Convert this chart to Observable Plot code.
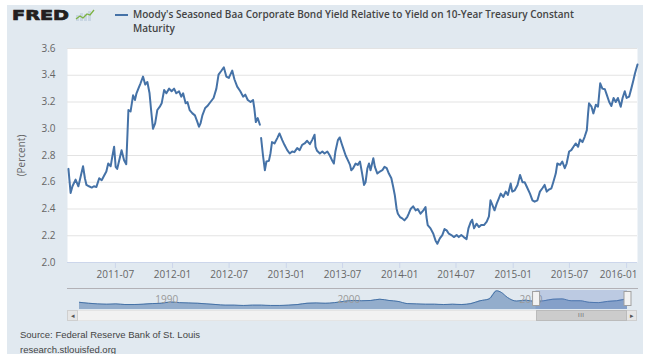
<!DOCTYPE html>
<html><head><meta charset="utf-8">
<script src="https://cdn.jsdelivr.net/npm/d3@7"></script>
<script src="https://cdn.jsdelivr.net/npm/@observablehq/plot@0.6"></script>
<style>
html,body{margin:0;padding:0;background:#fff;}
body{width:655px;height:354px;overflow:hidden;position:relative;font-family:"Open Sans",sans-serif;}
#panel{position:absolute;left:7px;top:5px;width:636px;height:349px;background:#e1e9f0;}
#logo{position:absolute;left:0;top:0;}
#legend{position:absolute;left:115px;top:7px;}
#legend .sw{position:absolute;left:0;top:7px;width:13px;height:2px;background:#4572a7;}
#legend .tx{position:absolute;left:18px;top:0;white-space:nowrap;font-size:10px;line-height:14px;font-weight:600;color:#444;}
#main{position:absolute;left:0;top:40px;}
#nav{position:absolute;left:0;top:288px;}
#navline{position:absolute;left:67px;top:288px;width:571px;height:1px;background:#b2b1b6;}
#track{position:absolute;left:67px;top:310px;width:570px;height:11px;background:#f2f2f2;border-top:1px solid #e4e4e4;border-bottom:1px solid #e4e4e4;box-sizing:border-box;}
.btn{position:absolute;top:310px;width:11px;height:11px;background:#e6e6e6;border:1px solid #cfcfcf;box-sizing:border-box;font-size:7px;line-height:9px;text-align:center;color:#555;}
#thumb{position:absolute;top:310px;height:11px;background:#cccccc;border:1px solid #bbb;box-sizing:border-box;font-size:6px;line-height:9px;text-align:center;color:#555;letter-spacing:0.5px;}
#src{position:absolute;left:20px;top:327px;font-family:"Liberation Sans Narrow","Liberation Sans",sans-serif;font-size:9.5px;color:#444;line-height:15px;}
</style></head>
<body>
<div id="panel"></div>
<svg id="logo" width="110" height="35">
  <text x="12" y="19.5" font-family="DejaVu Sans" font-weight="900" font-size="14" fill="#231f20" stroke="#231f20" stroke-width="0.7" textLength="57" lengthAdjust="spacingAndGlyphs">FRED</text>
  <g transform="translate(76,9)">
    <rect x="0" y="6" width="3" height="6" fill="#c9d6e3"/><rect x="4" y="4" width="3" height="8" fill="#c9d6e3"/>
    <rect x="8" y="5" width="3" height="7" fill="#c9d6e3"/><rect x="12" y="2" width="3" height="10" fill="#c9d6e3"/>
    <polyline points="0,10 4,7 7,9 11,5 14,6 18,1" fill="none" stroke="#7cb342" stroke-width="1.3"/>
  </g>
</svg>
<div id="legend"><div class="sw"></div><div class="tx">Moody's Seasoned Baa Corporate Bond Yield Relative to Yield on 10-Year Treasury Constant<br>Maturity</div></div>
<div id="main"></div>
<div id="navline"></div>
<div id="nav"></div>
<div id="track"></div>
<div class="btn" style="left:67px">&#9666;</div>
<div class="btn" style="left:626px">&#9656;</div>
<div id="thumb">III</div>
<div id="src">Source: Federal Reserve Bank of St. Louis<br>research.stlouisfed.org</div>
<script>
// ---- data ----
const windowStart = "2011-01-28";
const windowEnd = "2016-02-05";
const xTickLabels = ["2011-07","2012-01","2012-07","2013-01","2013-07","2014-01","2014-07","2015-01","2015-07","2016-01"];
const yTicks = [2.0,2.2,2.4,2.6,2.8,3.0,3.2,3.4,3.6];
const dates = [
"2011-01-31","2011-02-07","2011-02-13","2011-02-23","2011-03-04","2011-03-11","2011-03-19","2011-03-25","2011-03-30","2011-04-07",
"2011-04-16","2011-04-23","2011-05-01","2011-05-10","2011-05-18","2011-05-26","2011-06-02","2011-06-08","2011-06-16","2011-06-21",
"2011-06-27","2011-07-02","2011-07-07","2011-07-15","2011-07-21","2011-07-29","2011-08-05","2011-08-09","2011-08-12","2011-08-19",
"2011-08-27","2011-09-02","2011-09-07","2011-09-13","2011-09-20","2011-09-28","2011-10-05","2011-10-12","2011-10-19","2011-10-24",
"2011-10-30","2011-11-06","2011-11-13","2011-11-21","2011-11-27","2011-12-05","2011-12-12","2011-12-21","2011-12-29","2012-01-06",
"2012-01-13","2012-01-22","2012-01-29","2012-02-04","2012-02-12","2012-02-18","2012-02-25","2012-03-05","2012-03-13","2012-03-21",
"2012-03-26","2012-03-31","2012-04-06","2012-04-15","2012-04-22","2012-05-02","2012-05-12","2012-05-21","2012-05-28","2012-06-05",
"2012-06-14","2012-06-22","2012-06-30","2012-07-11","2012-07-18","2012-07-27","2012-08-06","2012-08-15","2012-08-22","2012-08-30",
"2012-09-08","2012-09-16","2012-09-20","2012-09-25","2012-10-01","2012-10-08","2012-10-10","2012-10-12","2012-10-18","2012-10-24",
"2012-10-29","2012-11-06","2012-11-11","2012-11-16","2012-11-24","2012-12-03","2012-12-10","2012-12-19","2012-12-26","2013-01-04",
"2013-01-12","2013-01-20","2013-01-27","2013-02-05","2013-02-13","2013-02-21","2013-03-01","2013-03-09","2013-03-18","2013-03-25",
"2013-04-02","2013-04-05","2013-04-10","2013-04-19","2013-04-27","2013-05-04","2013-05-13","2013-05-21","2013-05-29","2013-06-03",
"2013-06-08","2013-06-16","2013-06-22","2013-06-28","2013-07-03","2013-07-11","2013-07-18","2013-07-25","2013-07-29","2013-08-04",
"2013-08-12","2013-08-19","2013-08-26","2013-09-02","2013-09-08","2013-09-13","2013-09-19","2013-09-24","2013-09-29","2013-10-08",
"2013-10-13","2013-10-21","2013-10-29","2013-11-06","2013-11-13","2013-11-20","2013-11-27","2013-12-05","2013-12-11","2013-12-16",
"2013-12-22","2013-12-26","2014-01-02","2014-01-09","2014-01-16","2014-01-25","2014-01-30","2014-02-05","2014-02-13","2014-02-21",
"2014-02-28","2014-03-09","2014-03-18","2014-03-25","2014-03-28","2014-04-01","2014-04-10","2014-04-19","2014-04-26","2014-05-02",
"2014-05-10","2014-05-18","2014-05-25","2014-06-01","2014-06-08","2014-06-16","2014-06-24","2014-07-03","2014-07-10","2014-07-18",
"2014-07-26","2014-08-04","2014-08-10","2014-08-17","2014-08-22","2014-08-28","2014-09-05","2014-09-13","2014-09-20","2014-09-29",
"2014-10-08","2014-10-15","2014-10-20","2014-10-26","2014-11-02","2014-11-09","2014-11-16","2014-11-22","2014-11-30","2014-12-08",
"2014-12-15","2014-12-24","2014-12-29","2015-01-06","2015-01-15","2015-01-23","2015-01-31","2015-02-07","2015-02-16","2015-02-24",
"2015-03-04","2015-03-11","2015-03-20","2015-03-28","2015-04-05","2015-04-12","2015-04-19","2015-04-26","2015-05-04","2015-05-10",
"2015-05-18","2015-05-23","2015-06-01","2015-06-08","2015-06-16","2015-06-22","2015-06-30","2015-07-07","2015-07-14","2015-07-21",
"2015-07-29","2015-08-04","2015-08-12","2015-08-19","2015-08-26","2015-08-30","2015-09-02","2015-09-10","2015-09-16","2015-09-24",
"2015-10-01","2015-10-08","2015-10-15","2015-10-23","2015-10-29","2015-11-06","2015-11-13","2015-11-20","2015-11-27","2015-12-04",
"2015-12-13","2015-12-19","2015-12-26","2016-01-01","2016-01-09","2016-01-16","2016-01-23","2016-01-28","2016-02-05"];
const values = [
2.70,2.52,2.57,2.62,2.57,2.64,2.72,2.63,2.58,2.57,
2.56,2.57,2.565,2.63,2.615,2.65,2.68,2.74,2.72,2.79,
2.865,2.715,2.70,2.78,2.84,2.765,2.735,2.965,3.14,3.13,
3.25,3.215,3.265,3.30,3.34,3.39,3.33,3.35,3.265,3.14,
3.00,3.04,3.14,3.165,3.19,3.29,3.265,3.30,3.28,3.30,
3.265,3.28,3.24,3.265,3.19,3.20,3.14,3.115,3.10,3.05,
3.015,3.04,3.10,3.155,3.17,3.20,3.23,3.30,3.405,3.43,
3.46,3.39,3.38,3.435,3.37,3.315,3.28,3.24,3.255,3.215,
3.20,3.215,3.155,3.05,3.08,3.03,null,2.93,2.80,2.69,
2.755,2.76,2.815,2.90,2.89,2.93,2.965,2.915,2.88,2.84,
2.815,2.83,2.825,2.855,2.84,2.88,2.89,2.91,2.885,2.915,
2.955,2.865,2.835,2.815,2.83,2.815,2.83,2.80,2.76,2.74,
2.83,2.915,2.935,2.89,2.855,2.80,2.765,2.73,2.69,2.705,
2.74,2.73,2.755,2.665,2.58,2.60,2.705,2.74,2.69,2.78,
2.715,2.665,2.68,2.69,2.715,2.705,2.665,2.63,2.565,2.505,
2.40,2.365,2.34,2.33,2.315,2.34,2.365,2.40,2.42,2.39,
2.40,2.365,2.39,2.415,2.34,2.28,2.255,2.215,2.165,2.14,
2.18,2.205,2.25,2.24,2.215,2.205,2.19,2.205,2.19,2.205,
2.19,2.175,2.255,2.30,2.32,2.255,2.29,2.265,2.28,2.28,
2.305,2.345,2.465,2.43,2.39,2.44,2.48,2.515,2.49,2.53,
2.505,2.59,2.53,2.54,2.58,2.655,2.60,2.60,2.555,2.515,
2.465,2.455,2.465,2.53,2.555,2.58,2.53,2.545,2.555,2.60,
2.665,2.74,2.73,2.755,2.705,2.74,2.83,2.84,2.865,2.89,
2.865,2.92,2.90,2.94,2.99,3.115,3.19,3.165,3.115,3.18,
3.165,3.34,3.30,3.295,3.255,3.20,3.17,3.23,3.20,3.23,
3.165,3.23,3.28,3.23,3.24,3.30,3.365,3.415,3.48];
// navigator (full history, coarse reading)
const navStart = "1986-01-02";
const navDates = ["1986-01-02","1986-07-01","1987-01-01","1987-07-01","1988-01-01","1988-07-01","1989-01-01","1989-07-01","1990-01-01","1990-07-01",
"1991-01-01","1991-07-01","1992-01-01","1992-07-01","1993-01-01","1993-07-01","1994-01-01","1994-07-01","1995-01-01","1995-07-01",
"1996-01-01","1996-07-01","1997-01-01","1997-07-01","1998-01-01","1998-07-01","1999-01-01","1999-07-01","2000-01-01","2000-07-01",
"2001-01-01","2001-07-01","2002-01-01","2002-07-01","2003-01-01","2003-07-01","2004-01-01","2004-07-01","2005-01-01","2005-07-01",
"2006-01-01","2006-07-01","2007-01-01","2007-07-01","2008-01-01","2008-07-01","2008-12-01","2009-03-01","2009-07-01","2010-01-01",
"2010-07-01","2011-01-01","2011-07-01","2012-01-01","2012-07-01","2013-01-01","2013-07-01","2014-01-01","2014-07-01","2015-01-01",
"2015-07-01","2016-02-05"];
const navValues = [2.3,2.0,1.8,1.7,1.8,1.6,1.6,1.7,1.9,2.0,
2.4,2.2,2.1,2.0,1.8,1.6,1.4,1.4,1.3,1.4,
1.4,1.3,1.3,1.4,1.6,2.0,2.1,2.0,2.2,2.6,
2.9,2.8,2.9,3.3,2.9,2.6,1.9,1.8,1.7,1.7,
1.6,1.7,1.6,1.9,2.8,3.4,6.0,5.5,3.9,2.7,
3.0,2.6,2.8,3.3,3.4,2.8,2.8,2.3,2.2,2.6,
2.8,3.5];
const navTickYears = ["1990","2000","2010"];

// ---- build ----
const parse = d3.utcParse("%Y-%m-%d");
const series = dates.map((d, i) => ({date: parse(d), value: values[i]}));
const xTicks = xTickLabels.map(d3.utcParse("%Y-%m"));
const x0 = parse(windowStart), x1 = parse(windowEnd);
const fmt = d3.utcFormat("%Y-%m");

const main = Plot.plot({
  width: 645, height: 245,
  marginLeft: 67, marginRight: 8, marginTop: 8, marginBottom: 23,
  style: {background: "transparent", fontFamily: "Open Sans", fontSize: "10px", color: "#666"},
  x: {type: "utc", domain: [x0, x1]},
  y: {domain: [2.0, 3.6]},
  marks: [
    Plot.frame({fill: "white", stroke: "none"}),
    Plot.gridY(yTicks, {stroke: "#e3e3e3", strokeOpacity: 1}),
    Plot.ruleY([2.0], {stroke: "#ccd6eb"}),
    Plot.axisX(xTicks, {tickFormat: () => "", tickSize: 6, stroke: "#ccd6eb", label: null}),
    Plot.axisX(xTicks.slice(0, -1), {tickFormat: fmt, tickSize: 0, tickPadding: 8, fill: "#666", label: null}),
    Plot.axisX(xTicks.slice(-1), {tickFormat: fmt, tickSize: 0, tickPadding: 8, dx: -8, fill: "#666", label: null}),
    Plot.axisY(yTicks, {tickFormat: d3.format(".1f"), tickSize: 0, tickPadding: 12, fill: "#666", label: "(Percent)", labelAnchor: "center", labelArrow: "none", labelOffset: 50}),
    Plot.lineY(series, {x: "date", y: "value", stroke: "#4572a7", strokeWidth: 2})
  ]
});
document.getElementById("main").append(main);

const navSeries = navDates.map((d, i) => ({date: parse(d), value: navValues[i]}));
const nav = Plot.plot({
  width: 655, height: 22,
  marginLeft: 79, marginRight: 28, marginTop: 2, marginBottom: 1,
  style: {background: "transparent", fontFamily: "Open Sans", fontSize: "10px"},
  x: {type: "utc", domain: [parse(navStart), x1], axis: null},
  y: {domain: [0, 6.1], axis: null},
  marks: [
    Plot.areaY(navSeries, {x: "date", y: "value", fill: "#4572a7", fillOpacity: 0.5, curve: "monotone-x"}),
    Plot.lineY(navSeries, {x: "date", y: "value", stroke: "#4572a7", strokeWidth: 1, curve: "monotone-x"}),
    Plot.text(navTickYears, {x: d => d3.utcParse("%Y")(d), text: d => d, frameAnchor: "middle", textAnchor: "start", dx: 3, fill: "#999"}),
    Plot.rect([{a: x0, b: x1}], {x1: "a", x2: "b", fill: "#6685c2", fillOpacity: 0.3}),
    Plot.ruleX([x0, x1], {stroke: "#a0a0a0", strokeWidth: 8, insetTop: 1, insetBottom: 3}),
    Plot.ruleX([x0, x1], {stroke: "#f2f2f2", strokeWidth: 6, insetTop: 2, insetBottom: 4})
  ]
});
document.getElementById("nav").append(nav);
const sx = nav.scale("x");
const th = document.getElementById("thumb");
th.style.left = sx.apply(x0) + "px";
th.style.width = (sx.apply(x1) - sx.apply(x0)) + "px";
</script>
</body></html>
